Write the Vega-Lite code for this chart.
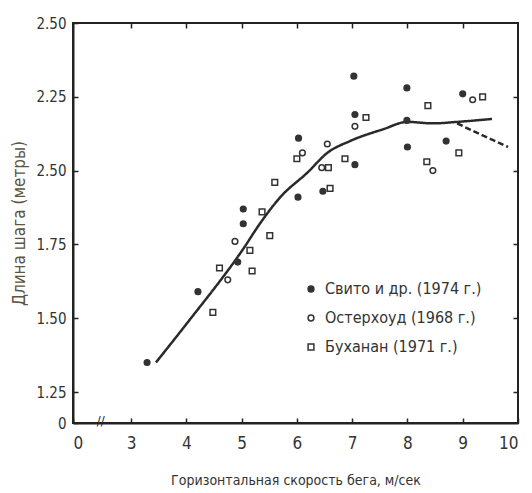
{
  "$schema": "https://vega.github.io/schema/vega-lite/v6.json",
  "autosize": "none",
  "width": 445,
  "height": 400,
  "padding": {"left": 73, "top": 23, "right": 14, "bottom": 70},
  "background": "white",
  "config": {
    "view": {"stroke": "#222", "strokeWidth": 2},
    "font": "'Liberation Sans Narrow', 'DejaVu Sans Condensed', 'Liberation Sans', sans-serif",
    "axis": {"grid": false, "domainColor": "#222", "domainWidth": 2, "tickColor": "#222", "tickWidth": 1.5, "labelColor": "#333", "labelFont": "'Liberation Sans Narrow', 'DejaVu Sans Condensed', 'Liberation Sans', sans-serif", "labelFontSize": 14, "titleFont": "'Liberation Sans Narrow', 'DejaVu Sans Condensed', 'Liberation Sans', sans-serif", "titleFontWeight": "normal", "titleColor": "#333"}
  },
  "datasets": {
    "pts": [
      {"s": "Свито и др. (1974 г.)", "x": 3.29, "y": 1.35},
      {"s": "Свито и др. (1974 г.)", "x": 4.21, "y": 1.59},
      {"s": "Свито и др. (1974 г.)", "x": 4.93, "y": 1.69},
      {"s": "Свито и др. (1974 г.)", "x": 5.03, "y": 1.82},
      {"s": "Свито и др. (1974 г.)", "x": 5.03, "y": 1.87},
      {"s": "Свито и др. (1974 г.)", "x": 6.02, "y": 1.91},
      {"s": "Свито и др. (1974 г.)", "x": 6.03, "y": 2.11},
      {"s": "Свито и др. (1974 г.)", "x": 6.47, "y": 1.93},
      {"s": "Свито и др. (1974 г.)", "x": 7.03, "y": 2.32},
      {"s": "Свито и др. (1974 г.)", "x": 7.05, "y": 2.19},
      {"s": "Свито и др. (1974 г.)", "x": 7.05, "y": 2.02},
      {"s": "Свито и др. (1974 г.)", "x": 7.99, "y": 2.28},
      {"s": "Свито и др. (1974 г.)", "x": 7.99, "y": 2.17},
      {"s": "Свито и др. (1974 г.)", "x": 8.0, "y": 2.08},
      {"s": "Свито и др. (1974 г.)", "x": 8.7, "y": 2.1},
      {"s": "Свито и др. (1974 г.)", "x": 9.0, "y": 2.26},
      {"s": "Остерхоуд (1968 г.)", "x": 4.75, "y": 1.63},
      {"s": "Остерхоуд (1968 г.)", "x": 4.88, "y": 1.76},
      {"s": "Остерхоуд (1968 г.)", "x": 6.1, "y": 2.06},
      {"s": "Остерхоуд (1968 г.)", "x": 6.55, "y": 2.09},
      {"s": "Остерхоуд (1968 г.)", "x": 6.45, "y": 2.01},
      {"s": "Остерхоуд (1968 г.)", "x": 7.05, "y": 2.15},
      {"s": "Остерхоуд (1968 г.)", "x": 8.46, "y": 2.0},
      {"s": "Остерхоуд (1968 г.)", "x": 9.18, "y": 2.24},
      {"s": "Буханан (1971 г.)", "x": 4.48, "y": 1.52},
      {"s": "Буханан (1971 г.)", "x": 4.6, "y": 1.67},
      {"s": "Буханан (1971 г.)", "x": 5.15, "y": 1.73},
      {"s": "Буханан (1971 г.)", "x": 5.19, "y": 1.66},
      {"s": "Буханан (1971 г.)", "x": 5.37, "y": 1.86},
      {"s": "Буханан (1971 г.)", "x": 5.51, "y": 1.78},
      {"s": "Буханан (1971 г.)", "x": 5.6, "y": 1.96},
      {"s": "Буханан (1971 г.)", "x": 6.0, "y": 2.04},
      {"s": "Буханан (1971 г.)", "x": 6.57, "y": 2.01},
      {"s": "Буханан (1971 г.)", "x": 6.6, "y": 1.94},
      {"s": "Буханан (1971 г.)", "x": 6.87, "y": 2.04},
      {"s": "Буханан (1971 г.)", "x": 7.25, "y": 2.18},
      {"s": "Буханан (1971 г.)", "x": 8.37, "y": 2.22},
      {"s": "Буханан (1971 г.)", "x": 8.35, "y": 2.03},
      {"s": "Буханан (1971 г.)", "x": 8.93, "y": 2.06},
      {"s": "Буханан (1971 г.)", "x": 9.36, "y": 2.25}
    ],
    "curve": [
      {"part": "solid", "x": 3.45, "y": 1.35},
      {"part": "solid", "x": 4.0, "y": 1.48},
      {"part": "solid", "x": 5.03, "y": 1.735},
      {"part": "solid", "x": 5.33, "y": 1.82},
      {"part": "solid", "x": 5.7, "y": 1.91},
      {"part": "solid", "x": 6.2, "y": 1.995},
      {"part": "solid", "x": 6.55, "y": 2.06},
      {"part": "solid", "x": 6.96, "y": 2.1},
      {"part": "solid", "x": 7.56, "y": 2.14},
      {"part": "solid", "x": 8.0, "y": 2.165},
      {"part": "solid", "x": 8.46, "y": 2.16},
      {"part": "solid", "x": 8.9, "y": 2.165},
      {"part": "solid", "x": 9.53, "y": 2.175},
      {"part": "dashed", "x": 8.9, "y": 2.16},
      {"part": "dashed", "x": 9.35, "y": 2.12},
      {"part": "dashed", "x": 9.82, "y": 2.08}
    ],
    "brk": [
      {"x": 2.45, "y": 1.145, "t": "//"}
    ]
  },
  "resolve": {"axis": {"x": "independent", "y": "independent"}},
  "layer": [
    {
      "data": {"name": "curve"},
      "mark": {"type": "line", "color": "#2a2a2a", "strokeWidth": 2.5, "interpolate": "monotone"},
      "encoding": {
        "x": {"field": "x", "type": "quantitative", "scale": {"domain": [1.95, 10], "nice": false, "zero": false},
          "axis": {"orient": "top", "values": [3, 4, 5, 6, 7, 8, 9], "labels": false, "domain": false, "tickSize": -5, "title": null}},
        "y": {"field": "y", "type": "quantitative", "scale": {"domain": [1.145, 2.5], "nice": false, "zero": false},
          "axis": {"orient": "right", "values": [1.25, 1.5, 1.75, 2.0, 2.25], "labels": false, "domain": false, "tickSize": -5, "title": null}},
        "strokeDash": {"field": "part", "type": "nominal", "scale": {"domain": ["solid", "dashed"], "range": [[1, 0], [6, 3]]}, "legend": null},
        "detail": {"field": "part"}
      }
    },
    {
      "data": {"name": "pts"},
      "mark": {"type": "point", "size": 32, "strokeWidth": 1.5, "opacity": 1},
      "encoding": {
        "x": {"field": "x", "type": "quantitative",
          "axis": {"orient": "bottom", "values": [1.95, 3, 4, 5, 6, 7, 8, 9, 10], "labelExpr": "datum.value < 2.5 ? '0' : datum.value", "tickSize": -5, "labelPadding": 17, "labelFontSize": 17, "titleFontSize": 14, "titlePadding": 22, "title": "Горизонтальная скорость бега, м/сек"}},
        "y": {"field": "y", "type": "quantitative",
          "axis": {"orient": "left", "values": [1.145, 1.25, 1.5, 1.75, 2.0, 2.25, 2.5], "labelExpr": "datum.value < 1.2 ? '0' : datum.value == 2 ? '2.50' : format(datum.value, '.2f')", "tickSize": -5, "labelPadding": 12, "labelFontSize": 15, "titleFontSize": 17, "titlePadding": 7, "titleColor": "#5c5540", "title": "Длина шага (метры)"}},
        "shape": {"field": "s", "type": "nominal", "scale": {"domain": ["Свито и др. (1974 г.)", "Остерхоуд (1968 г.)", "Буханан (1971 г.)"], "range": ["circle", "circle", "square"]},
          "legend": {"orient": "none", "legendX": 230, "legendY": 258, "title": null, "labelFontSize": 16, "labelLimit": 300, "labelColor": "#333", "rowPadding": 13, "symbolSize": 34, "symbolStrokeWidth": 1.5, "labelOffset": 6}},
        "fill": {"field": "s", "type": "nominal", "scale": {"domain": ["Свито и др. (1974 г.)", "Остерхоуд (1968 г.)", "Буханан (1971 г.)"], "range": ["#333", "white", "white"]}},
        "stroke": {"value": "#333"}
      }
    },
    {
      "data": {"name": "brk"},
      "mark": {"type": "text", "fontSize": 13, "color": "#222", "baseline": "middle", "dy": -2},
      "encoding": {
        "x": {"field": "x", "type": "quantitative", "axis": null},
        "y": {"field": "y", "type": "quantitative", "axis": null},
        "text": {"field": "t"}
      }
    }
  ]
}
